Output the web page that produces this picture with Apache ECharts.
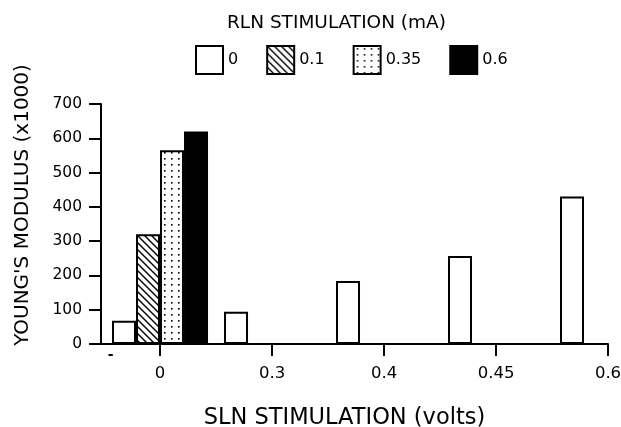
<!DOCTYPE html>
<html>
<head>
<meta charset="utf-8">
<script src="https://cdn.jsdelivr.net/npm/echarts@6/dist/echarts.min.js"></script>
<style>
  html, body { margin: 0; padding: 0; background: #fff; }
  #chart { width: 621px; height: 427px; }
</style>
</head>
<body>
<div id="chart"></div>
<script>
// ---- data ----
const slnLabels = ['0', '0.3', '0.4', '0.45', '0.6'];   // SLN stimulation (volts)
const slnPos = [0, 1, 2, 3, 4];                          // axis positions of those labels
const rlnLevels = ['0', '0.1', '0.35', '0.6'];           // RLN stimulation (mA)
const rln0 = [68, 94, 184, 257, 430];
const rln01 = [320, null, null, null, null];
const rln035 = [565, null, null, null, null];
const rln06 = [620, null, null, null, null];
const yTicks = [0, 100, 200, 300, 400, 500, 600, 700];

// ---- patterns ----
function hatchCanvas() {
  const c = document.createElement('canvas');
  c.width = 7; c.height = 7;
  const g = c.getContext('2d');
  g.fillStyle = '#fff'; g.fillRect(0, 0, 7, 7);
  g.strokeStyle = '#000'; g.lineWidth = 1.4;
  g.beginPath();
  g.moveTo(-1, -1); g.lineTo(8, 8);
  g.moveTo(-1, 6); g.lineTo(1, 8);
  g.moveTo(6, -1); g.lineTo(8, 1);
  g.stroke();
  return c;
}
function dotCanvas() {
  const c = document.createElement('canvas');
  c.width = 7; c.height = 6;
  const g = c.getContext('2d');
  g.fillStyle = '#fff'; g.fillRect(0, 0, 7, 6);
  g.fillStyle = '#000';
  g.fillRect(3, 2, 1.6, 1.6);
  return c;
}
const fills = [
  '#ffffff',
  { image: hatchCanvas(), repeat: 'repeat' },
  { image: dotCanvas(), repeat: 'repeat' },
  '#000000'
];
const values = [rln0, rln01, rln035, rln06];

const FONT = 'DejaVu Sans';
const chart = echarts.init(document.getElementById('chart'), null, { renderer: 'canvas' });

const series = rlnLevels.map((name, k) => ({
  name: name,
  type: 'bar',
  xAxisIndex: 0,
  barWidth: 24,
  barGap: '0%',
  itemStyle: { color: fills[k], borderColor: '#000', borderWidth: 2 },
  data: slnPos.map((x, i) => [x, values[k][i]]).filter(d => d[1] != null)
}));

chart.setOption({
  backgroundColor: '#fff',
  animation: false,
  title: {
    text: 'RLN STIMULATION (mA)',
    left: 222, top: 9,
    textStyle: { fontFamily: FONT, fontSize: 18.5, fontWeight: 'normal', color: '#000' }
  },
  legend: {
    left: 195, top: 45, padding: 0,
    itemWidth: 27, itemHeight: 28, itemGap: 28,
    icon: 'rect',
    data: rlnLevels,
    textStyle: { fontFamily: FONT, fontSize: 16, color: '#000' }
  },
  grid: { left: 101, right: 13, top: 104, bottom: 83, outerBoundsMode: 'none', containLabel: false },
  xAxis: [{
    type: 'value',
    min: -0.527, max: 4,
    name: 'SLN STIMULATION (volts)',
    nameLocation: 'middle',
    nameGap: 63,
    nameTextStyle: { fontFamily: FONT, fontSize: 22.5, color: '#000', padding: [0, 20, 0, 0] },
    axisLine: { show: true, onZero: false, lineStyle: { color: '#000', width: 2 } },
    axisTick: { show: true, length: 12, customValues: slnPos, lineStyle: { color: '#000', width: 2 } },
    axisLabel: {
      customValues: slnPos,
      margin: 21,
      fontFamily: FONT, fontSize: 16.5, color: '#000',
      formatter: v => slnLabels[slnPos.indexOf(Math.round(v))] || ''
    },
    splitLine: { show: false }
  }, {
    type: 'value',
    min: -0.527, max: 4,
    position: 'bottom',
    axisLine: { show: false },
    axisTick: { show: false },
    axisLabel: {
      customValues: [-0.44],
      margin: 4,
      fontFamily: FONT, fontSize: 14, fontWeight: 'bold', color: '#000',
      formatter: () => '-'
    },
    splitLine: { show: false }
  }],
  yAxis: {
    type: 'value',
    min: 0, max: 700, interval: 100,
    name: "YOUNG'S MODULUS (x1000)",
    nameLocation: 'middle',
    nameRotate: 90,
    nameGap: 68,
    nameTextStyle: { fontFamily: FONT, fontSize: 20, color: '#000', padding: [0, 0, 0, 38] },
    axisLine: { show: true, onZero: false, lineStyle: { color: '#000', width: 2 } },
    axisTick: { show: true, length: 12, lineStyle: { color: '#000', width: 2 } },
    axisLabel: {
      margin: 19, fontFamily: FONT, fontSize: 15.5, color: '#000',
      formatter: v => String(yTicks[yTicks.indexOf(v)] ?? v)
    },
    splitLine: { show: false }
  },
  series: series
});
</script>
</body>
</html>
